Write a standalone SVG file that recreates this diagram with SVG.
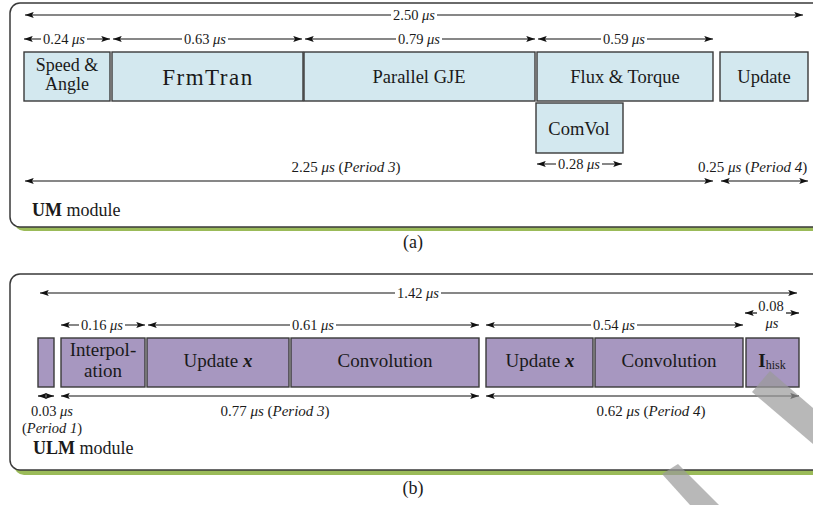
<svg xmlns="http://www.w3.org/2000/svg" width="813" height="505" viewBox="0 0 813 505">
<style>
  text { font-family: "Liberation Serif", "Times New Roman", serif; fill: #1a1a1a; }
  .frame { fill: #ffffff; stroke: #3a3a3a; stroke-width: 1.5; }
  .shadow { fill: #9bbb59; }
  .blue { fill: #d3e8ef; stroke: #3a3a3a; stroke-width: 1.4; }
  .purple { fill: #a797c0; stroke: #3a3a3a; stroke-width: 1.4; }
  .lbl { font-size: 18.5px; text-anchor: middle; }
  .dim { font-size: 14.5px; text-anchor: middle; }
  .per { font-size: 15px; }
  .dl { stroke: #111; stroke-width: 1.2; fill: none; marker-start: url(#ah); marker-end: url(#ah); }
  .dr { stroke: #111; stroke-width: 1.2; fill: none; marker-end: url(#ah); }
  .gap { fill: #ffffff; }
  .i { font-style: italic; }
  .b { font-weight: bold; }
  .wm { fill: #9a9a9a; fill-opacity: 0.7; }
</style>
<defs>
  <marker id="ah" viewBox="0 0 10 8" refX="10" refY="4" markerWidth="9" markerHeight="7" markerUnits="userSpaceOnUse" orient="auto-start-reverse">
    <path d="M0,0.5 L10,4 L0,7.5 L2,4 z" fill="#111"/>
  </marker>
</defs>

<!-- module frames with green drop shadow -->
<g id="frame-a">
  <rect class="shadow" x="14" y="7" width="830" height="224" rx="10"/>
  <rect class="frame" x="10" y="3" width="830" height="224" rx="10"/>
  <text x="32" y="216" style="font-size:18px"><tspan class="b">UM</tspan> module</text>
</g>
<g id="frame-b">
  <rect class="shadow" x="14" y="278" width="830" height="197" rx="10"/>
  <rect class="frame" x="10" y="274" width="830" height="196" rx="10"/>
  <text x="33" y="454" style="font-size:18px"><tspan class="b">ULM</tspan> module</text>
</g>

<!-- (a) UM module stages -->
<g id="speed-angle">
  <rect class="blue" x="24" y="52" width="86" height="49"/>
  <text class="lbl" x="67" y="71" style="font-size:18px">Speed &amp;</text>
  <text class="lbl" x="67" y="90" style="font-size:18px">Angle</text>
</g>
<g id="frmtran">
  <rect class="blue" x="112" y="52" width="191" height="49"/>
  <text class="lbl" x="208" y="85" style="font-size:23px; letter-spacing:1.5px">FrmTran</text>
</g>
<g id="parallel-gje">
  <rect class="blue" x="304" y="52" width="231" height="49"/>
  <text class="lbl" x="419" y="83">Parallel GJE</text>
</g>
<g id="flux-torque">
  <rect class="blue" x="537" y="52" width="176" height="49"/>
  <text class="lbl" x="625" y="83">Flux &amp; Torque</text>
</g>
<g id="update-a">
  <rect class="blue" x="720" y="52" width="88" height="49"/>
  <text class="lbl" x="764" y="83">Update</text>
</g>
<g id="comvol">
  <rect class="blue" x="536" y="103" width="87" height="50"/>
  <text class="lbl" x="579" y="135">ComVol</text>
</g>

<!-- (b) ULM module stages -->
<g id="period1">
  <rect class="purple" x="38" y="338" width="16" height="49"/>
</g>
<g id="interpolation">
  <rect class="purple" x="61" y="338" width="84" height="49"/>
  <text class="lbl" x="103" y="356" style="font-size:19px">Interpol-</text>
  <text class="lbl" x="103" y="377" style="font-size:19px">ation</text>
</g>
<g id="update-x-1">
  <rect class="purple" x="147" y="338" width="142" height="49"/>
  <text class="lbl" x="218" y="367" style="font-size:19px">Update <tspan class="b i">x</tspan></text>
</g>
<g id="convolution-1">
  <rect class="purple" x="291" y="338" width="188" height="49"/>
  <text class="lbl" x="385" y="367" style="font-size:19px">Convolution</text>
</g>
<g id="update-x-2">
  <rect class="purple" x="486" y="338" width="107" height="49"/>
  <text class="lbl" x="540" y="367" style="font-size:19px">Update <tspan class="b i">x</tspan></text>
</g>
<g id="convolution-2">
  <rect class="purple" x="595" y="338" width="148" height="49"/>
  <text class="lbl" x="669" y="367" style="font-size:19px">Convolution</text>
</g>
<g id="ihisk">
  <rect class="purple" x="746" y="338" width="53" height="49"/>
  <text class="lbl" x="772" y="367"><tspan class="b" style="font-size:19px">I</tspan><tspan style="font-size:12px" dy="2">hisk</tspan></text>
</g>

<!-- timing dimension lines -->
<g id="connectors">
  <line class="dl" x1="25" y1="15" x2="803" y2="15"/>
  <line class="dl" x1="24" y1="39" x2="110" y2="39"/>
  <line class="dl" x1="113" y1="39" x2="302" y2="39"/>
  <line class="dl" x1="305" y1="39" x2="535" y2="39"/>
  <line class="dl" x1="538" y1="39" x2="713" y2="39"/>
  <line class="dl" x1="537" y1="164" x2="622" y2="164"/>
  <line class="dl" x1="25" y1="181" x2="713" y2="181"/>
  <line class="dl" x1="721" y1="181" x2="808" y2="181"/>

  <line class="dl" x1="40" y1="293" x2="797" y2="293"/>
  <line class="dl" x1="61" y1="325" x2="145" y2="325"/>
  <line class="dl" x1="148" y1="325" x2="479" y2="325"/>
  <line class="dl" x1="486" y1="325" x2="743" y2="325"/>
  <line class="dr" x1="757" y1="313" x2="745" y2="313"/>
  <line class="dr" x1="786" y1="313" x2="799" y2="313"/>
  <line class="dl" x1="38" y1="396" x2="54" y2="396"/>
  <line class="dl" x1="61" y1="396" x2="479" y2="396"/>
  <line class="dl" x1="486" y1="396" x2="799" y2="396"/>
</g>

<!-- timing labels -->
<g id="labels">
  <rect class="gap" x="391" y="9" width="46" height="12"/>
  <text class="dim" x="414" y="20">2.50 <tspan class="i">μs</tspan></text>
  <rect class="gap" x="41" y="33" width="46" height="12"/>
  <text class="dim" x="64" y="44">0.24 <tspan class="i">μs</tspan></text>
  <rect class="gap" x="182" y="33" width="46" height="12"/>
  <text class="dim" x="205" y="44">0.63 <tspan class="i">μs</tspan></text>
  <rect class="gap" x="396" y="33" width="46" height="12"/>
  <text class="dim" x="419" y="44">0.79 <tspan class="i">μs</tspan></text>
  <rect class="gap" x="601" y="33" width="46" height="12"/>
  <text class="dim" x="624" y="44">0.59 <tspan class="i">μs</tspan></text>
  <rect class="gap" x="556" y="158" width="46" height="12"/>
  <text class="dim" x="579" y="169">0.28 <tspan class="i">μs</tspan></text>
  <text class="dim per" x="346" y="172">2.25 <tspan class="i">μs</tspan> (<tspan class="i">Period 3</tspan>)</text>
  <text class="per" x="698" y="172">0.25 <tspan class="i">μs</tspan> (<tspan class="i">Period 4</tspan>)</text>
  <text x="413" y="248" style="font-size:18px" text-anchor="middle">(a)</text>

  <rect class="gap" x="395" y="287" width="46" height="12"/>
  <text class="dim" x="418" y="298">1.42 <tspan class="i">μs</tspan></text>
  <rect class="gap" x="79" y="319" width="46" height="12"/>
  <text class="dim" x="102" y="330">0.16 <tspan class="i">μs</tspan></text>
  <rect class="gap" x="290" y="319" width="46" height="12"/>
  <text class="dim" x="313" y="330">0.61 <tspan class="i">μs</tspan></text>
  <rect class="gap" x="591" y="319" width="46" height="12"/>
  <text class="dim" x="614" y="330">0.54 <tspan class="i">μs</tspan></text>
  <text class="dim" x="771" y="311">0.08</text>
  <text class="dim i" x="772" y="328">μs</text>
  <text class="dim" x="52" y="416">0.03 <tspan class="i">μs</tspan></text>
  <text class="dim" x="52" y="433">(<tspan class="i">Period 1</tspan>)</text>
  <text class="dim per" x="275" y="416">0.77 <tspan class="i">μs</tspan> (<tspan class="i">Period 3</tspan>)</text>
  <text class="dim per" x="651" y="416">0.62 <tspan class="i">μs</tspan> (<tspan class="i">Period 4</tspan>)</text>
  <text x="413" y="494" style="font-size:18px" text-anchor="middle">(b)</text>
</g>

<!-- grey diagonal strokes over the lower right -->
<g id="overlay">
  <polygon class="wm" points="770,371 813,408 813,444 752,392"/>
  <polygon class="wm" points="678,464 719,505 690,505 662,474"/>
</g>
</svg>
